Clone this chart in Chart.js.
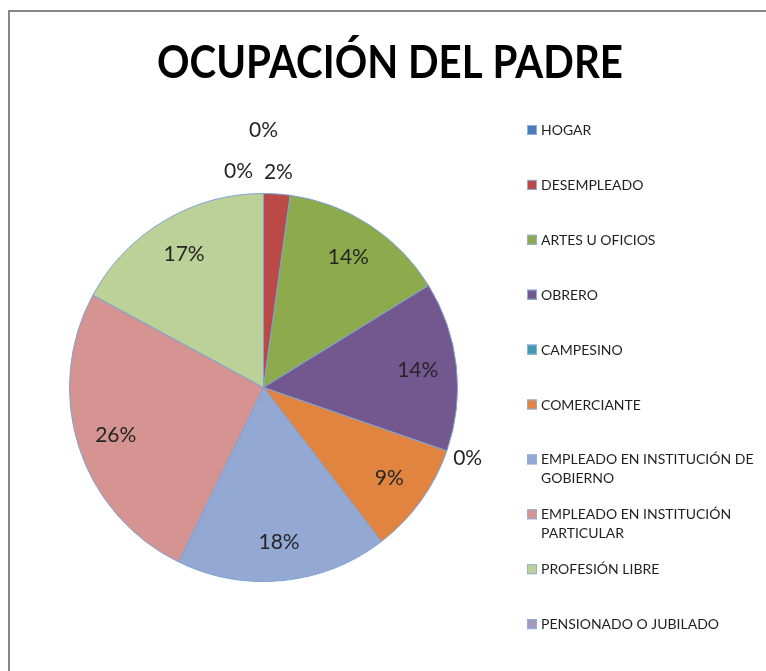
<!DOCTYPE html>
<html><head><meta charset="utf-8">
<script src="https://cdn.jsdelivr.net/npm/chart.js@4.4.1/dist/chart.umd.min.js"></script>
<style>html,body{margin:0;padding:0;background:#fff;overflow:hidden}#wrap{position:relative;width:766px;height:671px}</style>
</head><body><div id="wrap"><canvas id="c"></canvas></div>
<script>
const chartTitle = 'OCUPACIÓN DEL PADRE';
const categories = ['HOGAR','DESEMPLEADO','ARTES U OFICIOS','OBRERO','CAMPESINO','COMERCIANTE','EMPLEADO EN INSTITUCIÓN DE GOBIERNO','EMPLEADO EN INSTITUCIÓN PARTICULAR','PROFESIÓN LIBRE','PENSIONADO O JUBILADO'];
const values = [0, 2.2, 14.0, 14.1, 0, 9.3, 17.6, 25.7, 17.1, 0];
const sliceColors = ['#4A7EBB','#BB4A47','#8DAA4C','#73578F','#4198AF','#E0843F','#93A9D3','#D59391','#BCD198','#A597C0'];

const total = values.reduce((a,b)=>a+b,0);
const percentLabels = values.map(v=>Math.round(v/total*100)+'%');

const decorPlugin = {
  id:'decor',
  beforeDraw(chart){
    const ctx = chart.ctx;
    ctx.save();
    ctx.fillStyle = '#ffffff';
    ctx.fillRect(0,0,chart.width,chart.height);
    ctx.fillStyle = '#878787';
    ctx.fillRect(8,10,chart.width,2);
    ctx.fillRect(8,10,2,chart.height);
    ctx.restore();
  },
  afterDraw(chart){
    const ctx = chart.ctx;
    ctx.save();
    // title
    ctx.fillStyle = '#000';
    ctx.font = 'bold 46px Lato';
    ctx.textAlign = 'center';
    ctx.textBaseline = 'alphabetic';
    const tw = ctx.measureText(chartTitle).width;
    ctx.translate(390,78);
    ctx.scale(466/tw,1);
    ctx.fillText(chartTitle,0,0);
    ctx.restore();

    // data labels
    ctx.save();
    const fs = 21;
    ctx.font = fs+'px Lato';
    ctx.fillStyle = '#262626';
    ctx.textAlign = 'center';
    ctx.textBaseline = 'middle';
    const meta = chart.getDatasetMeta(0);
    const placed = [];
    const boxOf = (x,y,t)=>{const w=ctx.measureText(t).width;return {x1:x-w/2,x2:x+w/2,y1:y-fs*0.5,y2:y+fs*0.5};};
    const hits = (b)=>placed.some(p=>!(b.x2<p.x1||b.x1>p.x2||b.y2<p.y1||b.y1>p.y2));
    const outside = [];
    meta.data.forEach((arc,i)=>{
      const p = arc.getProps(['x','y','startAngle','endAngle','outerRadius'],true);
      const mid = (p.startAngle+p.endAngle)/2;
      const pct = values[i]/total*100;
      if(pct>=5){
        const d = p.outerRadius*0.8;
        const x = p.x+Math.cos(mid)*d, y = p.y+Math.sin(mid)*d;
        ctx.fillText(percentLabels[i],x,y);
      } else {
        outside.push({i,p,mid,pct});
      }
    });
    // nonzero outside first, then zero ones by descending index
    outside.sort((a,b)=>{
      if((a.pct>0)!==(b.pct>0)) return a.pct>0?-1:1;
      return b.i-a.i;
    });
    outside.forEach(o=>{
      const t = percentLabels[o.i];
      const d = o.p.outerRadius+22;
      let x = o.p.x+Math.cos(o.mid)*d, y = o.p.y+Math.sin(o.mid)*d;
      let b = boxOf(x,y,t);
      if(hits(b)){
        const tx = x+Math.sin(o.mid)*25, ty = y-Math.cos(o.mid)*25;
        const tb = boxOf(tx,ty,t);
        if(!hits(tb)){x=tx;y=ty;b=tb;}
        else{
          let k=0;
          while(hits(b)&&k<6){k++;x+=Math.cos(o.mid)*41;y+=Math.sin(o.mid)*41;b=boxOf(x,y,t);}
        }
      }
      placed.push(b);
      ctx.fillText(t,x,y);
    });
    ctx.restore();

    // legend
    ctx.save();
    ctx.font = '14px Lato';
    ctx.textAlign = 'left';
    ctx.textBaseline = 'middle';
    const maxW = 766-541-6;
    categories.forEach((c,i)=>{
      const yc = 129.5 + i*54.9;
      ctx.fillStyle = sliceColors[i];
      ctx.fillRect(527,yc-4.5,10,10);
      ctx.strokeStyle = '#8DB0DD';
      ctx.lineWidth = 1;
      ctx.strokeRect(527.5,yc-4,9,9);
      // wrap
      const words = c.split(' ');
      const lines = [];
      let cur = '';
      words.forEach(w=>{
        const test = cur?cur+' '+w:w;
        if(ctx.measureText(test).width>maxW && cur){lines.push(cur);cur=w;}
        else cur=test;
      });
      if(cur) lines.push(cur);
      ctx.fillStyle = '#1F1F1F';
      lines.forEach((ln,j)=>ctx.fillText(ln,541,yc+1+j*19));
    });
    ctx.restore();
  }
};

new Chart(document.getElementById('c'),{
  type:'pie',
  data:{labels:categories,datasets:[{data:values,backgroundColor:sliceColors,borderColor:'#7DA3D6',borderWidth:1}]},
  options:{
    responsive:true,maintainAspectRatio:false,animation:false,events:[],
    layout:{padding:{left:69,top:193,right:308,bottom:89}},
    plugins:{legend:{display:false},tooltip:{enabled:false},title:{display:false}}
  },
  plugins:[decorPlugin]
});
</script></body></html>
